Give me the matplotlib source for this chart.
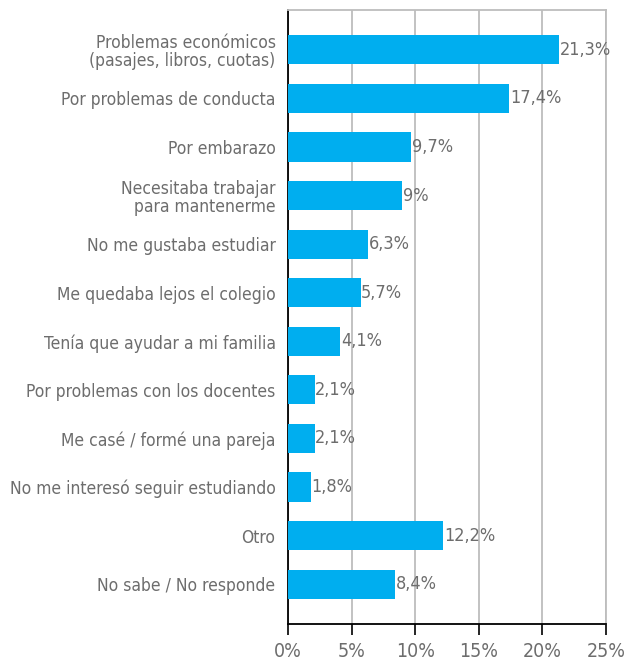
import matplotlib
matplotlib.use('Agg')
import matplotlib.pyplot as plt
from matplotlib import font_manager as fm

categorias = ['Problemas económicos\n(pasajes, libros, cuotas)',
              'Por problemas de conducta',
              'Por embarazo',
              'Necesitaba trabajar\npara mantenerme',
              'No me gustaba estudiar',
              'Me quedaba lejos el colegio',
              'Tenía que ayudar a mi familia',
              'Por problemas con los docentes',
              'Me casé / formé una pareja',
              'No me interesó seguir estudiando',
              'Otro',
              'No sabe / No responde']
valores = [21.3, 17.4, 9.7, 9, 6.3, 5.7, 4.1, 2.1, 2.1, 1.8, 12.2, 8.4]
etiquetas = ['21,3%', '17,4%', '9,7%', '9%', '6,3%', '5,7%', '4,1%',
             '2,1%', '2,1%', '1,8%', '12,2%', '8,4%']
xticks = [0, 5, 10, 15, 20, 25]

nombres = {f.name for f in fm.fontManager.ttflist}
if 'Liberation Sans Narrow' in nombres:
    plt.rcParams['font.family'] = ['Liberation Sans Narrow', 'DejaVu Sans']
else:
    plt.rcParams['font.family'] = ['DejaVu Sans']
    plt.rcParams['font.stretch'] = 'condensed'

gris = '#6d6d6d'
fig = plt.figure(figsize=(6.36, 6.66), dpi=100)
ax = fig.add_axes([288/636, 1 - 624/666, (606-288)/636, (624-10)/666])

pos = list(range(len(valores)))
ax.barh(pos, valores, height=0.6, color='#00AEEF', zorder=3)
for p, v, t in zip(pos, valores, etiquetas):
    ax.text(v + 0.05, p, t, va='center', ha='left', fontsize=13, color=gris, zorder=4)

ax.set_xlim(0, 25)
ax.set_ylim(len(valores) - 0.18, -0.82)
ax.set_yticks(pos)
ax.set_yticklabels(categorias, fontsize=12.5, color=gris, linespacing=1.0)
ax.tick_params(axis='y', length=0, pad=9)
ax.set_xticks(xticks)
ax.set_xticklabels([f'{x}%' for x in xticks], fontsize=14, color=gris)
ax.tick_params(axis='x', length=8, width=1.2, direction='out', pad=5, color='black')
ax.xaxis.grid(True, color='#bdbdbd', linewidth=1.3, zorder=0)

for s in ['top', 'right']:
    ax.spines[s].set_color('#bdbdbd')
    ax.spines[s].set_linewidth(1.3)
for s in ['left', 'bottom']:
    ax.spines[s].set_color('black')
    ax.spines[s].set_linewidth(1.3)

fig.savefig('out.png', dpi=100)
